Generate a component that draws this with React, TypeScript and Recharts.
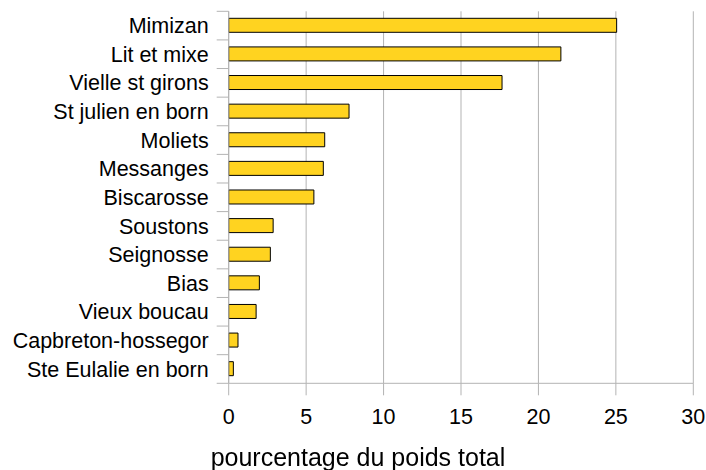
import React from 'react';
import { BarChart, Bar, XAxis, YAxis, CartesianGrid } from 'recharts';

const communes = [
  'Mimizan',
  'Lit et mixe',
  'Vielle st girons',
  'St julien en born',
  'Moliets',
  'Messanges',
  'Biscarosse',
  'Soustons',
  'Seignosse',
  'Bias',
  'Vieux boucau',
  'Capbreton-hossegor',
  'Ste Eulalie en born',
];
const pourcentages = [25.05, 21.45, 17.65, 7.77, 6.2, 6.11, 5.5, 2.87, 2.69, 1.98, 1.77, 0.6, 0.3];
const xTicks = [0, 5, 10, 15, 20, 25, 30];

const data = communes.map((name, i) => ({ name, value: pourcentages[i] }));

const W = 706;
const H = 470;
const TOP = 11.3;
const BOTTOM = 86.7;
const BAND = (H - TOP - BOTTOM) / communes.length;
const GRID = '#b3b3b3';
const FONT = '"Liberation Sans", Arial, sans-serif';
const FS = 21.5;

const CategoryTick = (props: any) => {
  const { x, y, payload, index } = props;
  return (
    <g>
      <line x1={x - 12} x2={x} y1={y - BAND / 2} y2={y - BAND / 2} stroke={GRID} />
      {index === communes.length - 1 && (
        <line x1={x - 12} x2={x} y1={y + BAND / 2} y2={y + BAND / 2} stroke={GRID} />
      )}
      <text x={x - 20} y={y} dy="0.355em" textAnchor="end" fontSize={FS} fill="#000" fontFamily={FONT}>
        {payload.value}
      </text>
    </g>
  );
};

export default function App() {
  return (
    <div style={{ position: 'fixed', top: 0, left: 0, width: W, height: H, fontFamily: FONT, background: '#fff' }}>
      <BarChart
        width={W}
        height={H}
        data={data}
        layout="vertical"
        barSize={14}
        margin={{ top: TOP, right: 12.7, left: 0, bottom: 0 }}
      >
        <CartesianGrid horizontal={false} stroke={GRID} />
        <XAxis
          type="number"
          domain={[0, 30]}
          ticks={xTicks}
          stroke={GRID}
          tickSize={12}
          tickMargin={13.7}
          height={BOTTOM}
          tick={{ fontSize: FS, fill: '#000', fontFamily: FONT }}
        />
        <XAxis
          xAxisId="top"
          orientation="top"
          type="number"
          domain={[0, 30]}
          ticks={xTicks}
          stroke={GRID}
          tick={false}
          tickLine={false}
          height={0}
        />
        <YAxis
          type="category"
          dataKey="name"
          width={228.7}
          stroke={GRID}
          tickLine={false}
          tickSize={0}
          tickMargin={0}
          interval={0}
          tick={<CategoryTick />}
        />
        <Bar dataKey="value" fill="#ffd320" stroke="#000" strokeWidth={1} isAnimationActive={false} />
      </BarChart>
      <div
        style={{
          position: 'absolute',
          left: 5,
          width: W,
          top: 443,
          lineHeight: '28px',
          fontSize: 25,
          textAlign: 'center',
          color: '#000',
          whiteSpace: 'nowrap',
        }}
      >
        pourcentage du poids total
      </div>
    </div>
  );
}
